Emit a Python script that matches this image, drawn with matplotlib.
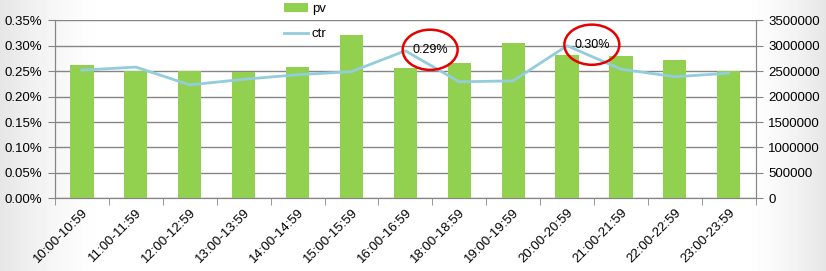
import numpy as np
import matplotlib.pyplot as plt
from matplotlib.patches import Ellipse

hours = ['10:00-10:59', '11:00-11:59', '12:00-12:59', '13:00-13:59', '14:00-14:59',
         '15:00-15:59', '16:00-16:59', '18:00-18:59', '19:00-19:59', '20:00-20:59',
         '21:00-21:59', '22:00-22:59', '23:00-23:59']
pv = [2615000, 2500000, 2500000, 2490000, 2580000, 3205000, 2560000,
      2655000, 3050000, 2810000, 2790000, 2715000, 2500000]
ctr = [0.252, 0.258, 0.223, 0.234, 0.243, 0.249, 0.290,
       0.229, 0.231, 0.300, 0.254, 0.239, 0.246]  # percent
marked = [6, 9]

plt.rcParams['font.family'] = ['Liberation Sans', 'DejaVu Sans']

fig = plt.figure(figsize=(8.26, 2.71), dpi=100)

# soft grey fade at the left and right edges
bg = fig.add_axes([0, 0, 1, 1], zorder=-10)
xs = np.linspace(0, 1, 826)
shade = np.clip(1 - np.minimum(xs / 0.13, (1 - xs) / 0.10), 0, 1) ** 1.5
grad = 1 - 0.10 * shade
bg.imshow(np.tile(grad, (10, 1)), cmap='gray', vmin=0, vmax=1, aspect='auto', extent=[0, 1, 0, 1])
bg.axis('off')

ax = fig.add_axes([55 / 826, 1 - 198.3 / 271, 700.7 / 826, 178 / 271])
axb = ax.twinx()
ax.set_zorder(axb.zorder + 1)
ax.patch.set_visible(False)
axb.patch.set_facecolor('white')

x = np.arange(len(hours))
axb.bar(x, pv, width=0.43, color='#92d050', label='pv', zorder=3)
ax.plot(x, ctr, color='#93cddd', lw=2, label='ctr')

ax.set_xlim(-0.5, len(hours) - 0.5)
ax.set_ylim(0, 0.35)
axb.set_ylim(0, 3500000)
ax.set_yticks(np.arange(0, 0.351, 0.05))
ax.set_yticklabels(['%.2f%%' % v for v in np.arange(0, 0.351, 0.05)])
axb.set_yticks(np.arange(0, 3500001, 500000))
axb.set_yticklabels(['%d' % v for v in np.arange(0, 3500001, 500000)])

axb.grid(axis='y', color='#868686', lw=1)
axb.set_axisbelow(True)

ax.set_xticks(x)
ax.set_xticklabels(hours, rotation=45, ha='right', rotation_mode='anchor', fontsize=9.5)
ax.set_xticks(np.arange(-0.5, len(hours)), minor=True)
ax.tick_params(axis='x', which='major', length=0, pad=6)
ax.tick_params(axis='x', which='minor', length=5, color='#868686')
ax.tick_params(axis='y', length=5, color='#868686', labelsize=9.5, pad=4)
axb.tick_params(axis='y', length=5, color='#868686', labelsize=9.5, pad=4)

for a in (ax, axb):
    for s in ('left', 'right', 'bottom'):
        a.spines[s].set_color('#868686')
    a.spines['top'].set_visible(False)

for i in marked:
    ax.add_patch(Ellipse((i + 0.46, ctr[i] + 0.002), 1.02, 0.079, fill=False,
                         edgecolor='#e60000', lw=1.8, zorder=5))
    ax.text(i + 0.46, ctr[i] + 0.002, '%.2f%%' % ctr[i], ha='center', va='center',
            fontsize=9, zorder=6)

h1, l1 = axb.get_legend_handles_labels()
h2, l2 = ax.get_legend_handles_labels()
fig.legend(h1 + h2, l1 + l2, loc='upper left', bbox_to_anchor=(284 / 826, 0.988),
           frameon=False, fontsize=9.5, labelspacing=0.95, handlelength=1.8,
           handletextpad=0.3, borderaxespad=0, borderpad=0)

fig.savefig('out.png', dpi=100)
